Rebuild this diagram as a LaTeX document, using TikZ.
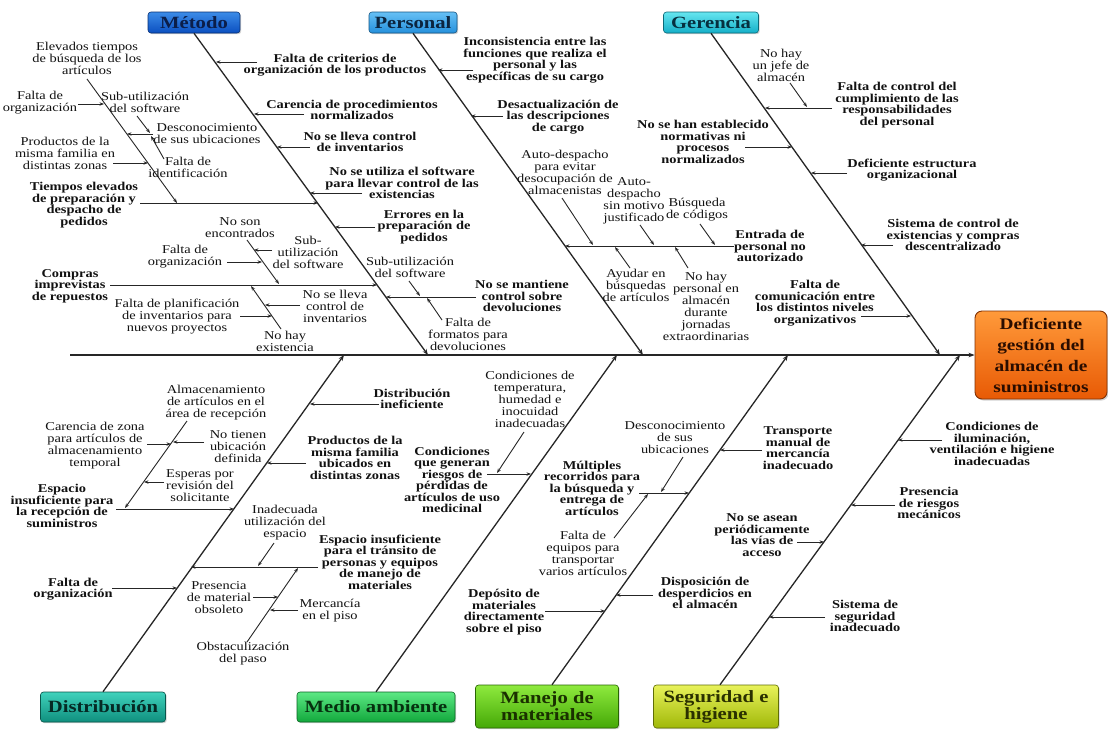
\documentclass[tikz,border=0pt]{standalone}
\usepackage{fontspec}
\setmainfont{Liberation Serif}[FakeStretch=1.2]
\usetikzlibrary{arrows.meta,shadows}
\definecolor{txt}{HTML}{121212}
\definecolor{ln}{HTML}{262626}
\definecolor{metT}{HTML}{3C8CE8}\definecolor{metB}{HTML}{0B4FC0}\definecolor{metX}{HTML}{0B1E4A}
\definecolor{perT}{HTML}{66C0F5}\definecolor{perB}{HTML}{2590DC}\definecolor{perX}{HTML}{0B2540}
\definecolor{gerT}{HTML}{66E6F0}\definecolor{gerB}{HTML}{14AFC8}\definecolor{gerX}{HTML}{063040}
\definecolor{disT}{HTML}{40D2BC}\definecolor{disB}{HTML}{0F8F7E}\definecolor{disX}{HTML}{052A25}
\definecolor{medT}{HTML}{5CE884}\definecolor{medB}{HTML}{12A83C}\definecolor{medX}{HTML}{06300F}
\definecolor{manT}{HTML}{8EEA3E}\definecolor{manB}{HTML}{45A806}\definecolor{manX}{HTML}{1A3000}
\definecolor{segT}{HTML}{E8F25A}\definecolor{segB}{HTML}{A0B808}\definecolor{segX}{HTML}{2A3000}
\definecolor{efeT}{HTML}{FF9A3A}\definecolor{efeB}{HTML}{E85A05}\definecolor{efeX}{HTML}{2A0D00}
\begin{document}
\begin{tikzpicture}[x=1pt,y=-1pt,
  tr/.style={align=center,inner sep=0.5pt,text=txt,font=\fontsize{12}{12}\selectfont},
  tb/.style={align=center,inner sep=0.5pt,text=txt,font=\bfseries\fontsize{12}{11.5}\selectfont},
  cat/.style 2 args={rounded corners=3pt,top color=#1,bottom color=#2,draw=#2!60!black,line width=0.6pt,
    inner sep=2pt,align=center,font=\bfseries\fontsize{17.2}{17}\selectfont,
    drop shadow={shadow xshift=1.2pt,shadow yshift=-1.2pt,opacity=0.35}},
  bone/.style={draw=ln,line width=1.3pt,-{Stealth[length=6pt,width=4.5pt]}},
  arr/.style={draw=ln,line width=0.9pt,-{Stealth[length=4.5pt,width=3.4pt]}},
]
\useasboundingbox (0,0) rectangle (1108,729);
\fill[white] (0,0) rectangle (1108,729);

% ---------- category boxes and effect ----------
\node[cat={metT}{metB},minimum width=92pt,minimum height=21pt] (metodo) at (194,22.5) {\color{metX}Método};
\node[cat={perT}{perB},minimum width=88pt,minimum height=21pt] (personal) at (413,22.5) {\color{perX}Personal};
\node[cat={gerT}{gerB},minimum width=95pt,minimum height=21pt] (gerencia) at (711,22.5) {\color{gerX}Gerencia};
\node[cat={disT}{disB},minimum width=125pt,minimum height=30pt] (distrib) at (103,707) {\color{disX}Distribución};
\node[cat={medT}{medB},minimum width=158pt,minimum height=30pt] (medio) at (376,707) {\color{medX}Medio ambiente};
\node[cat={manT}{manB},minimum width=143pt,minimum height=43pt] (manejo) at (547,706.5) {\color{manX}Manejo de\\\color{manX}materiales};
\node[cat={segT}{segB},minimum width=125pt,minimum height=43pt] (segur) at (716,706.5) {\color{segX}Seguridad e\\\color{segX}higiene};
\node[rounded corners=7pt,top color=efeT,bottom color=efeB,draw=efeB!55!black,line width=0.9pt,
  minimum width=132pt,minimum height=88pt,align=center,
  font=\bfseries\fontsize{16.1}{21}\selectfont,
  drop shadow={shadow xshift=1.5pt,shadow yshift=-1.5pt,opacity=0.35}] (efecto) at (1041,355)
  {\color{efeX}Deficiente\\\color{efeX}gestión del\\\color{efeX}almacén de\\\color{efeX}suministros};

% ---------- spine and main bones ----------
\coordinate (sp0) at (70,355);
\coordinate (mE) at (428,355);
\coordinate (pE) at (643,355);
\coordinate (gE) at (940,355);
\coordinate (dE) at (344,355);
\coordinate (maE) at (617,355);
\coordinate (mmE) at (788,355);
\coordinate (sE) at (960,355);
\draw[bone,line width=1.5pt] (sp0) -- (efecto.west);
\draw[bone] (metodo.south) -- (mE);
\draw[bone] (personal.south) -- (pE);
\draw[bone] (gerencia.south) -- (gE);
\draw[bone] (distrib.north) -- (dE);
\draw[bone] (medio.north) -- (maE);
\draw[bone] ([xshift=5pt]manejo.north) -- (mmE);
\draw[bone] ([xshift=4pt]segur.north) -- (sE);

% ================= METODO =================
\node[tb] (m1) at (335,65) {Falta de criterios de\\organización de los productos};
\coordinate (m1a) at (257,62); \coordinate (m1b) at (216,62);
\draw[arr] (m1a) -- (m1b);
\node[tb] (m2) at (352,110) {Carencia de procedimientos\\normalizados};
\coordinate (m2a) at (304,114); \coordinate (m2b) at (254,114);
\draw[arr] (m2a) -- (m2b);
\node[tb] (m3) at (360,142) {No se lleva control\\de inventarios};
\coordinate (m3a) at (310,147); \coordinate (m3b) at (277,147);
\draw[arr] (m3a) -- (m3b);
\node[tb] (m4) at (402,183) {No se utiliza el software\\para llevar control de las\\existencias};
\coordinate (m4a) at (362,193); \coordinate (m4b) at (310,193);
\draw[arr] (m4a) -- (m4b);
\node[tb] (m5) at (424,227) {Errores en la\\preparación de\\pedidos};
\coordinate (m5a) at (375,227); \coordinate (m5b) at (335,227);
\draw[arr] (m5a) -- (m5b);
\node[tb] (m6) at (522,296) {No se mantiene\\control sobre\\devoluciones};
\coordinate (m6a) at (476,297); \coordinate (m6b) at (386,297);
\draw[arr] (m6a) -- (m6b);
\node[tr] (m6x) at (410,267) {Sub-utilización\\del software};
\coordinate (m6xa) at (409,281); \coordinate (m6xb) at (420,296);
\draw[arr] (m6xa) -- (m6xb);
\node[tr] (m6y) at (468,334) {Falta de\\formatos para\\devoluciones};
\coordinate (m6ya) at (442,320); \coordinate (m6yb) at (427,298);
\draw[arr] (m6ya) -- (m6yb);

\node[tb] (m7) at (84,205) {Tiempos elevados\\de preparación y\\despacho de\\pedidos};
\coordinate (m7a) at (140,203); \coordinate (m7b) at (318,203);
\draw[arr] (m7a) -- (m7b);
\node[tr] (sb) at (87,58) {Elevados tiempos\\de búsqueda de los\\artículos};
\coordinate (sba) at (87,79); \coordinate (sbb) at (177,203);
\draw[arr] (sba) -- (sbb);
\node[tr] (sb1) at (40,103) {Falta de\\organización};
\coordinate (sb1a) at (78,104); \coordinate (sb1b) at (104,104);
\draw[arr] (sb1a) -- (sb1b);
\node[tr] (sb2) at (65,153) {Productos de la\\misma familia en\\distintas zonas};
\coordinate (sb2a) at (113,163); \coordinate (sb2b) at (148,163);
\draw[arr] (sb2a) -- (sb2b);
\node[tr] (sb3) at (207,134) {Desconocimiento\\de sus ubicaciones};
\coordinate (sb3a) at (153,134); \coordinate (sb3b) at (127,134);
\draw[arr] (sb3a) -- (sb3b);
\node[tr] (sb3x) at (145,102) {Sub-utilización\\del software};
\coordinate (sb3xa) at (137,116); \coordinate (sb3xb) at (150,133);
\draw[arr] (sb3xa) -- (sb3xb);
\node[tr] (sb3y) at (188,167) {Falta de\\identificación};
\coordinate (sb3ya) at (164,159); \coordinate (sb3yb) at (151,136);
\draw[arr] (sb3ya) -- (sb3yb);

\node[tb] (m8) at (70,286) {Compras\\imprevistas\\de repuestos};
\coordinate (m8a) at (110,285); \coordinate (m8b) at (377,285);
\draw[arr] (m8a) -- (m8b);
\node[tr] (u) at (240,228) {No son\\encontrados};
\coordinate (ua) at (247,240); \coordinate (ub) at (279,284);
\draw[arr] (ua) -- (ub);
\node[tr] (u1) at (185,257) {Falta de\\organización};
\coordinate (u1a) at (227,262); \coordinate (u1b) at (262,262);
\draw[arr] (u1a) -- (u1b);
\node[tr] (u2) at (308,252) {Sub-\\utilización\\del software};
\coordinate (u2a) at (272,250); \coordinate (u2b) at (254,250);
\draw[arr] (u2a) -- (u2b);
\node[tr] (l) at (285,341) {No hay\\existencia};
\coordinate (la) at (281,329); \coordinate (lb) at (251,286);
\draw[arr] (la) -- (lb);
\node[tr] (l1) at (177,317) {Falta de planificación\\de inventarios para\\nuevos proyectos};
\coordinate (l1a) at (240,316); \coordinate (l1b) at (272,316);
\draw[arr] (l1a) -- (l1b);
\node[tr] (l2) at (335,306) {No se lleva\\control de\\inventarios};
\coordinate (l2a) at (300,305); \coordinate (l2b) at (265,305);
\draw[arr] (l2a) -- (l2b);

% ================= PERSONAL =================
\node[tb] (p1) at (535,60) {Inconsistencia entre las\\funciones que realiza el\\personal y las\\específicas de su cargo};
\coordinate (p1a) at (473,70); \coordinate (p1b) at (438,70);
\draw[arr] (p1a) -- (p1b);
\node[tb] (p2) at (558,117) {Desactualización de\\las descripciones\\de cargo};
\coordinate (p2a) at (503,116); \coordinate (p2b) at (471,116);
\draw[arr] (p2a) -- (p2b);
\node[tb] (p3) at (770,246) {Entrada de\\personal no\\autorizado};
\coordinate (p3b) at (565,246);
\draw[arr] (p3.west) -- (p3b);
\node[tr] (pa) at (565,172) {Auto-despacho\\para evitar\\desocupación de\\almacenistas};
\coordinate (paa) at (562,198); \coordinate (pab) at (593,245);
\draw[arr] (paa) -- (pab);
\node[tr] (pb) at (634,201) {Auto-\\despacho\\sin motivo\\justificado};
\coordinate (pba) at (640,225); \coordinate (pbb) at (654,245);
\draw[arr] (pba) -- (pbb);
\node[tr] (pc) at (697,210) {Búsqueda\\de códigos};
\coordinate (pca) at (700,224); \coordinate (pcb) at (715,245);
\draw[arr] (pca) -- (pcb);
\node[tr] (pd) at (636,285) {Ayudar en\\búsquedas\\de artículos};
\coordinate (pda) at (630,268); \coordinate (pdb) at (615,247);
\draw[arr] (pda) -- (pdb);
\node[tr] (pe) at (706,306) {No hay\\personal en\\almacén\\durante\\jornadas\\extraordinarias};
\coordinate (pea) at (688,268); \coordinate (peb) at (675,247);
\draw[arr] (pea) -- (peb);

% ================= GERENCIA =================
\node[tb] (g1) at (897,105) {Falta de control del\\cumplimiento de las\\responsabilidades\\del personal};
\coordinate (g1a) at (832,108); \coordinate (g1b) at (765,108);
\draw[arr] (g1a) -- (g1b);
\node[tr] (ga) at (781,65) {No hay\\un jefe de\\almacén};
\coordinate (gaa) at (790,83); \coordinate (gab) at (807,107);
\draw[arr] (gaa) -- (gab);
\node[tb] (g2) at (703,142) {No se han establecido\\normativas ni\\procesos\\normalizados};
\coordinate (g2a) at (745,147); \coordinate (g2b) at (792,147);
\draw[arr] (g2a) -- (g2b);
\node[tb] (g3) at (912,170) {Deficiente estructura\\organizacional};
\coordinate (g3a) at (847,173); \coordinate (g3b) at (811,173);
\draw[arr] (g3a) -- (g3b);
\node[tb] (g4) at (953,235) {Sistema de control de\\existencias y compras\\descentralizado};
\coordinate (g4a) at (893,245); \coordinate (g4b) at (861,245);
\draw[arr] (g4a) -- (g4b);
\node[tb] (g5) at (815,303) {Falta de\\comunicación entre\\los distintos niveles\\organizativos};
\coordinate (g5a) at (861,316); \coordinate (g5b) at (911,316);
\draw[arr] (g5a) -- (g5b);

% ================= DISTRIBUCION =================
\node[tb] (d1) at (412,399) {Distribución\\ineficiente};
\coordinate (d1a) at (379,404); \coordinate (d1b) at (310,404);
\draw[arr] (d1a) -- (d1b);
\node[tb] (d2) at (355,458) {Productos de la\\misma familia\\ubicados en\\distintas zonas};
\coordinate (d2a) at (306,463); \coordinate (d2b) at (267,463);
\draw[arr] (d2a) -- (d2b);
\node[tb] (d3) at (62,506) {Espacio\\insuficiente para\\la recepción de\\suministros};
\coordinate (d3a) at (116,509); \coordinate (d3b) at (234,509);
\draw[arr] (d3a) -- (d3b);
\node[tr] (da) at (216,403) {Almacenamiento\\de artículos en el\\área de recepción};
\coordinate (daa) at (187,421); \coordinate (dab) at (125,508);
\draw[arr] (daa) -- (dab);
\node[tr] (da1) at (95,446) {Carencia de zona\\para artículos de\\almacenamiento\\temporal};
\coordinate (da1a) at (147,444); \coordinate (da1b) at (171,444);
\draw[arr] (da1a) -- (da1b);
\node[tr] (da2) at (238,447) {No tienen\\ubicación\\definida};
\coordinate (da2a) at (204,442); \coordinate (da2b) at (173,442);
\draw[arr] (da2a) -- (da2b);
\node[tr] (da3) at (200,486) {Esperas por\\revisión del\\solicitante};
\coordinate (da3a) at (164,482); \coordinate (da3b) at (144,482);
\draw[arr] (da3a) -- (da3b);
\node[tb] (d4) at (380,562) {Espacio insuficiente\\para el tránsito de\\personas y equipos\\de manejo de\\materiales};
\coordinate (d4a) at (318,567); \coordinate (d4b) at (191,567);
\draw[arr] (d4a) -- (d4b);
\node[tr] (db) at (285,523) {Inadecuada\\utilización del\\espacio};
\coordinate (dba) at (274,543); \coordinate (dbb) at (258,566);
\draw[arr] (dba) -- (dbb);
\node[tr] (dc) at (243,654) {Obstaculización\\del paso};
\coordinate (dca) at (247,642); \coordinate (dcb) at (298,568);
\draw[arr] (dca) -- (dcb);
\node[tr] (dc1) at (219,598) {Presencia\\de material\\obsoleto};
\coordinate (dc1a) at (253,597); \coordinate (dc1b) at (278,597);
\draw[arr] (dc1a) -- (dc1b);
\node[tr] (dc2) at (330,611) {Mercancía\\en el piso};
\coordinate (dc2a) at (298,610); \coordinate (dc2b) at (270,610);
\draw[arr] (dc2a) -- (dc2b);
\node[tb] (d5) at (73,589) {Falta de\\organización};
\coordinate (d5a) at (112,588); \coordinate (d5b) at (177,588);
\draw[arr] (d5a) -- (d5b);

% ================= MEDIO AMBIENTE =================
\node[tb] (ma2) at (452,480) {Condiciones\\que generan\\riesgos de\\pérdidas de\\artículos de uso\\medicinal};
\coordinate (ma2a) at (487,474); \coordinate (ma2b) at (531,474);
\draw[arr] (ma2a) -- (ma2b);
\node[tr] (ma1) at (530,399) {Condiciones de\\temperatura,\\humedad e\\inocuidad\\inadecuadas};
\coordinate (ma1a) at (524,432); \coordinate (ma1b) at (497,473);
\draw[arr] (ma1a) -- (ma1b);

% ================= MANEJO DE MATERIALES =================
\node[tb] (mm1) at (592,488) {Múltiples\\recorridos para\\la búsqueda y\\entrega de\\artículos};
\coordinate (mm1a) at (639,493); \coordinate (mm1b) at (689,493);
\draw[arr] (mm1a) -- (mm1b);
\node[tr] (mma) at (675,438) {Desconocimiento\\de sus\\ubicaciones};
\coordinate (mmaa) at (683,457); \coordinate (mmab) at (661,492);
\draw[arr] (mmaa) -- (mmab);
\node[tr] (mmb) at (583,553) {Falta de\\equipos para\\transportar\\varios artículos};
\coordinate (mmba) at (614,538); \coordinate (mmbb) at (648,494);
\draw[arr] (mmba) -- (mmbb);
\node[tb] (mm2) at (504,612) {Depósito de\\materiales\\directamente\\sobre el piso};
\coordinate (mm2a) at (545,611); \coordinate (mm2b) at (605,611);
\draw[arr] (mm2a) -- (mm2b);
\node[tb] (mm3) at (798,448) {Transporte\\manual de\\mercancía\\inadecuado};
\coordinate (mm3a) at (762,450); \coordinate (mm3b) at (720,450);
\draw[arr] (mm3a) -- (mm3b);
\node[tb] (mm4) at (705,593) {Disposición de\\desperdicios en\\el almacén};
\coordinate (mm4a) at (653,595); \coordinate (mm4b) at (616,595);
\draw[arr] (mm4a) -- (mm4b);

% ================= SEGURIDAD E HIGIENE =================
\node[tb] (s1) at (992,444) {Condiciones de\\iluminación,\\ventilación e higiene\\inadecuadas};
\coordinate (s1a) at (942,440); \coordinate (s1b) at (898,440);
\draw[arr] (s1a) -- (s1b);
\node[tb] (s2) at (929,503) {Presencia\\de riesgos\\mecánicos};
\coordinate (s2a) at (895,505); \coordinate (s2b) at (851,505);
\draw[arr] (s2a) -- (s2b);
\node[tb] (s3) at (762,535) {No se asean\\periódicamente\\las vías de\\acceso};
\coordinate (s3a) at (797,542); \coordinate (s3b) at (824,542);
\draw[arr] (s3a) -- (s3b);
\node[tb] (s4) at (865,616) {Sistema de\\seguridad\\inadecuado};
\coordinate (s4a) at (825,617); \coordinate (s4b) at (769,617);
\draw[arr] (s4a) -- (s4b);
\end{tikzpicture}
\end{document}
